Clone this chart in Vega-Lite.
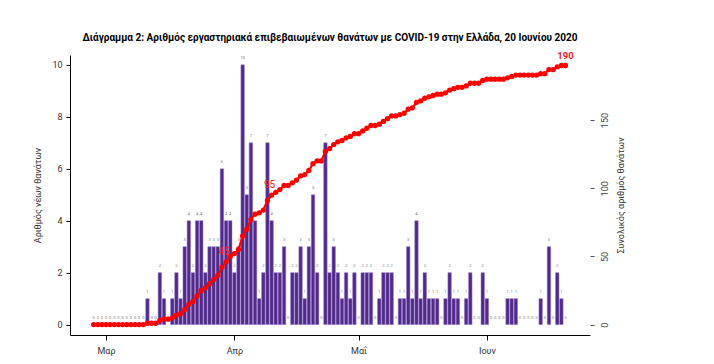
{
  "$schema": "https://vega.github.io/schema/vega-lite/v6.json",
  "width": 520,
  "height": 280,
  "autosize": {"type": "none"},
  "padding": {"left": 70, "top": 55, "right": 124, "bottom": 29},
  "background": "white",
  "config": {"view": {"stroke": null}, "font": "Roboto"},
  "title": {"text": "Διάγραμμα 2: Αριθμός εργαστηριακά επιβεβαιωμένων θανάτων με COVID-19 στην Ελλάδα, 20 Ιουνίου 2020", "font": "Roboto", "fontSize": 10, "fontWeight": "bold", "color": "#000", "anchor": "middle", "offset": 8},
  "data": {"values": [
    {"date": "2020-02-27", "d": 0, "c": 0},
    {"date": "2020-02-28", "d": 0, "c": 0},
    {"date": "2020-02-29", "d": 0, "c": 0},
    {"date": "2020-03-01", "d": 0, "c": 0},
    {"date": "2020-03-02", "d": 0, "c": 0},
    {"date": "2020-03-03", "d": 0, "c": 0},
    {"date": "2020-03-04", "d": 0, "c": 0},
    {"date": "2020-03-05", "d": 0, "c": 0},
    {"date": "2020-03-06", "d": 0, "c": 0},
    {"date": "2020-03-07", "d": 0, "c": 0},
    {"date": "2020-03-08", "d": 0, "c": 0},
    {"date": "2020-03-09", "d": 0, "c": 0},
    {"date": "2020-03-10", "d": 0, "c": 0},
    {"date": "2020-03-11", "d": 1, "c": 1},
    {"date": "2020-03-12", "d": 0, "c": 1},
    {"date": "2020-03-13", "d": 0, "c": 1},
    {"date": "2020-03-14", "d": 2, "c": 3},
    {"date": "2020-03-15", "d": 1, "c": 4},
    {"date": "2020-03-16", "d": 0, "c": 4},
    {"date": "2020-03-17", "d": 1, "c": 5},
    {"date": "2020-03-18", "d": 2, "c": 7},
    {"date": "2020-03-19", "d": 1, "c": 8},
    {"date": "2020-03-20", "d": 3, "c": 11},
    {"date": "2020-03-21", "d": 4, "c": 15},
    {"date": "2020-03-22", "d": 2, "c": 17},
    {"date": "2020-03-23", "d": 4, "c": 21},
    {"date": "2020-03-24", "d": 4, "c": 25},
    {"date": "2020-03-25", "d": 2, "c": 27},
    {"date": "2020-03-26", "d": 3, "c": 30},
    {"date": "2020-03-27", "d": 3, "c": 33},
    {"date": "2020-03-28", "d": 3, "c": 36},
    {"date": "2020-03-29", "d": 6, "c": 42},
    {"date": "2020-03-30", "d": 4, "c": 46, "lab": "45"},
    {"date": "2020-03-31", "d": 4, "c": 50},
    {"date": "2020-04-01", "d": 2, "c": 52},
    {"date": "2020-04-02", "d": 3, "c": 55},
    {"date": "2020-04-03", "d": 10, "c": 65},
    {"date": "2020-04-04", "d": 5, "c": 70},
    {"date": "2020-04-05", "d": 7, "c": 77},
    {"date": "2020-04-06", "d": 4, "c": 81},
    {"date": "2020-04-07", "d": 1, "c": 82},
    {"date": "2020-04-08", "d": 2, "c": 84},
    {"date": "2020-04-09", "d": 7, "c": 91},
    {"date": "2020-04-10", "d": 4, "c": 95, "lab": "95"},
    {"date": "2020-04-11", "d": 2, "c": 97},
    {"date": "2020-04-12", "d": 2, "c": 99},
    {"date": "2020-04-13", "d": 3, "c": 102},
    {"date": "2020-04-14", "d": 0, "c": 102},
    {"date": "2020-04-15", "d": 2, "c": 104},
    {"date": "2020-04-16", "d": 2, "c": 106},
    {"date": "2020-04-17", "d": 3, "c": 109},
    {"date": "2020-04-18", "d": 1, "c": 110},
    {"date": "2020-04-19", "d": 3, "c": 113},
    {"date": "2020-04-20", "d": 5, "c": 118},
    {"date": "2020-04-21", "d": 2, "c": 120},
    {"date": "2020-04-22", "d": 0, "c": 120},
    {"date": "2020-04-23", "d": 7, "c": 127},
    {"date": "2020-04-24", "d": 2, "c": 129},
    {"date": "2020-04-25", "d": 3, "c": 132},
    {"date": "2020-04-26", "d": 2, "c": 134},
    {"date": "2020-04-27", "d": 1, "c": 135},
    {"date": "2020-04-28", "d": 2, "c": 137},
    {"date": "2020-04-29", "d": 1, "c": 138},
    {"date": "2020-04-30", "d": 2, "c": 140},
    {"date": "2020-05-01", "d": 0, "c": 140},
    {"date": "2020-05-02", "d": 2, "c": 142},
    {"date": "2020-05-03", "d": 2, "c": 144},
    {"date": "2020-05-04", "d": 2, "c": 146},
    {"date": "2020-05-05", "d": 0, "c": 146},
    {"date": "2020-05-06", "d": 1, "c": 147},
    {"date": "2020-05-07", "d": 2, "c": 149},
    {"date": "2020-05-08", "d": 2, "c": 151},
    {"date": "2020-05-09", "d": 2, "c": 153},
    {"date": "2020-05-10", "d": 0, "c": 153},
    {"date": "2020-05-11", "d": 1, "c": 154},
    {"date": "2020-05-12", "d": 1, "c": 155},
    {"date": "2020-05-13", "d": 3, "c": 158},
    {"date": "2020-05-14", "d": 1, "c": 159},
    {"date": "2020-05-15", "d": 4, "c": 163},
    {"date": "2020-05-16", "d": 1, "c": 164},
    {"date": "2020-05-17", "d": 2, "c": 166},
    {"date": "2020-05-18", "d": 1, "c": 167},
    {"date": "2020-05-19", "d": 1, "c": 168},
    {"date": "2020-05-20", "d": 1, "c": 169},
    {"date": "2020-05-21", "d": 0, "c": 169},
    {"date": "2020-05-22", "d": 1, "c": 170},
    {"date": "2020-05-23", "d": 2, "c": 172},
    {"date": "2020-05-24", "d": 1, "c": 173},
    {"date": "2020-05-25", "d": 1, "c": 174},
    {"date": "2020-05-26", "d": 0, "c": 174},
    {"date": "2020-05-27", "d": 1, "c": 175},
    {"date": "2020-05-28", "d": 2, "c": 177},
    {"date": "2020-05-29", "d": 0, "c": 177},
    {"date": "2020-05-30", "d": 0, "c": 177},
    {"date": "2020-05-31", "d": 2, "c": 179},
    {"date": "2020-06-01", "d": 1, "c": 180},
    {"date": "2020-06-02", "d": 0, "c": 180},
    {"date": "2020-06-03", "d": 0, "c": 180},
    {"date": "2020-06-04", "d": 0, "c": 180},
    {"date": "2020-06-05", "d": 0, "c": 180},
    {"date": "2020-06-06", "d": 1, "c": 181},
    {"date": "2020-06-07", "d": 1, "c": 182},
    {"date": "2020-06-08", "d": 1, "c": 183},
    {"date": "2020-06-09", "d": 0, "c": 183},
    {"date": "2020-06-10", "d": 0, "c": 183},
    {"date": "2020-06-11", "d": 0, "c": 183},
    {"date": "2020-06-12", "d": 0, "c": 183},
    {"date": "2020-06-13", "d": 0, "c": 183},
    {"date": "2020-06-14", "d": 1, "c": 184},
    {"date": "2020-06-15", "d": 0, "c": 184},
    {"date": "2020-06-16", "d": 3, "c": 187},
    {"date": "2020-06-17", "d": 0, "c": 187},
    {"date": "2020-06-18", "d": 2, "c": 189},
    {"date": "2020-06-19", "d": 1, "c": 190},
    {"date": "2020-06-20", "d": 0, "c": 190, "labb": "190"}
  ]},
  "encoding": {
    "x": {
      "field": "date", "type": "temporal",
      "scale": {"type": "utc", "domain": ["2020-02-22T12:00:00Z", "2020-06-24T17:00:00Z"]},
      "axis": {
        "title": null, "grid": false,
        "values": [
          {"year": 2020, "month": 3, "date": 1, "utc": true},
          {"year": 2020, "month": 4, "date": 1, "utc": true},
          {"year": 2020, "month": 5, "date": 1, "utc": true},
          {"year": 2020, "month": 6, "date": 1, "utc": true}
        ],
        "labelExpr": "['Ιαν','Φεβ','Μαρ','Απρ','Μαΐ','Ιουν','Ιουλ'][utcmonth(datum.value)]",
        "domainColor": "#000", "domainWidth": 1, "tickColor": "#000", "tickSize": 5,
        "labelFont": "Roboto", "labelFontSize": 9, "labelColor": "#333", "labelPadding": 6
      }
    }
  },
  "resolve": {"scale": {"y": "independent"}},
  "layer": [
    {
      "layer": [
        {
          "transform": [{"filter": "datum.d > 0"}],
          "mark": {"type": "bar", "width": 3.5, "color": "#512b87", "stroke": "#9b7fd4", "strokeWidth": 0.5},
          "encoding": {
            "y": {"field": "d", "type": "quantitative",
              "scale": {"domain": [-0.4, 10.38], "nice": false, "zero": false},
              "axis": {"orient": "left", "values": [0, 2, 4, 6, 8, 10], "title": "Αριθμός νέων θανάτων", "grid": false,
                "domainColor": "#000", "tickColor": "#000", "tickSize": 4, "labelAngle": 0,
                "labelFont": "Roboto", "labelFontSize": 9, "labelColor": "#333", "labelPadding": 4,
                "titleFont": "Roboto", "titleFontSize": 9, "titleFontWeight": "normal", "titleColor": "#333", "titlePadding": 9}},
            "y2": {"datum": 0}
          }
        },
        {
          "mark": {"type": "text", "fontSize": 4, "color": "#777", "dy": -6.5, "baseline": "middle"},
          "encoding": {
            "y": {"field": "d", "type": "quantitative"},
            "text": {"field": "d", "type": "quantitative"}
          }
        }
      ]
    },
    {
      "layer": [
        {
          "mark": {"type": "line", "color": "#ff0000", "strokeWidth": 2.2},
          "encoding": {
            "y": {"field": "c", "type": "quantitative",
              "scale": {"domain": [-7.62, 197.7], "nice": false, "zero": false},
              "axis": {"orient": "right", "values": [0, 50, 100, 150], "title": "Συνολικός αριθμός θανάτων", "grid": false,
                "domain": false, "tickColor": "#555", "tickSize": 4, "labelAngle": -90, "labelAlign": "center", "labelBaseline": "top",
                "labelFont": "Roboto", "labelFontSize": 9, "labelColor": "#444", "labelPadding": 6,
                "titleAngle": -90, "titleFont": "Roboto", "titleFontSize": 9, "titleFontWeight": "normal", "titleColor": "#333", "titlePadding": 16}}
          }
        },
        {
          "mark": {"type": "point", "filled": true, "color": "#ff0000", "size": 28, "opacity": 1},
          "encoding": {"y": {"field": "c", "type": "quantitative"}}
        },
        {
          "data": {"values": [{"lo": 0, "hi": 150}]},
          "mark": {"type": "rule", "color": "#555", "strokeWidth": 1},
          "encoding": {
            "x": {"datum": {"year": 2020, "month": 6, "date": 24, "hours": 17, "utc": true}, "type": "temporal"},
            "y": {"field": "lo", "type": "quantitative"},
            "y2": {"field": "hi"}
          }
        },
        {
          "transform": [{"filter": "datum.lab != null"}],
          "mark": {"type": "text", "color": "#ff2020", "fontSize": 10, "font": "Roboto", "dy": -10, "dx": -2, "baseline": "middle"},
          "encoding": {
            "y": {"field": "c", "type": "quantitative"},
            "text": {"field": "lab"}
          }
        },
        {
          "transform": [{"filter": "datum.labb != null"}],
          "mark": {"type": "text", "color": "#e8191b", "fontSize": 9.5, "fontWeight": "bold", "font": "Roboto", "dy": -10, "baseline": "middle"},
          "encoding": {
            "y": {"field": "c", "type": "quantitative"},
            "text": {"field": "labb"}
          }
        }
      ]
    }
  ]
}
